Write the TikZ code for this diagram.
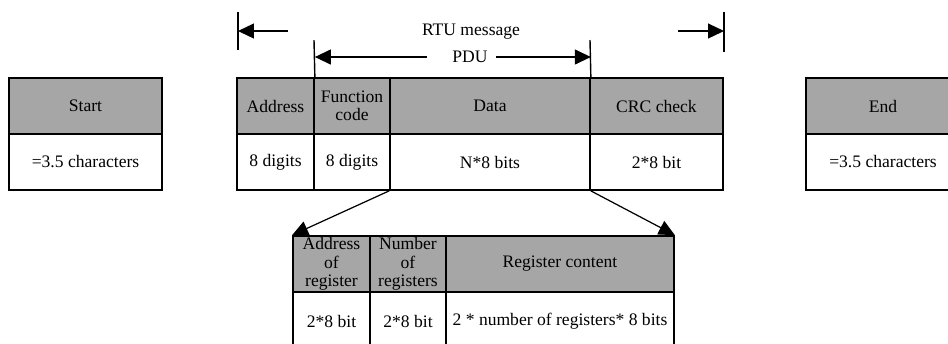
\documentclass[tikz,border=0pt]{standalone}
\usepackage{fontspec}
\setmainfont{Liberation Serif}
\usepackage{tikz}
\usetikzlibrary{arrows.meta,positioning}
\definecolor{cellgray}{RGB}{166,166,166}

\begin{document}
\begin{tikzpicture}[x=0.02cm, y=-0.02cm,
    cell/.style={rectangle, draw, line width=1pt, minimum height=1.12cm, inner sep=0pt, align=center, font=\fontsize{10}{10.5}\selectfont},
    head/.style={cell, fill=cellgray},
    arr/.style={-{Triangle[length=0.32cm,width=0.3cm]}, line width=0.7pt},
    bar/.style={line width=0.8pt}
]
    \useasboundingbox (0,0) rectangle (948,343);

    % start and end of frame
    \node[head, minimum width=3.06cm] (start) at (85.5,106) {Start};
    \node[cell, minimum width=3.06cm] (startlen) at (85.5,162) {=3.5 characters};
    \node[head, minimum width=3.08cm] (end) at (883,106) {End};
    \node[cell, minimum width=3.08cm] (endlen) at (883,162) {=3.5 characters};

    % RTU message
    \node[head, minimum width=1.54cm] (addr) at (275.5,106) {Address};
    \node[head, minimum width=1.52cm] (func) at (352,106) {Function\\code};
    \node[head, minimum width=4.00cm] (data) at (490,106) {Data};
    \node[head, minimum width=2.66cm] (crc) at (656.5,106) {CRC check};
    \node[cell, minimum width=1.54cm] (addrlen) at (275.5,162) {8 digits};
    \node[cell, minimum width=1.52cm] (funclen) at (352,162) {8 digits};
    \node[cell, minimum width=4.00cm] (datalen) at (490,162) {N*8 bits};
    \node[cell, minimum width=2.66cm] (crclen) at (656.5,162) {2*8 bit};

    % data field
    \node[head, minimum width=1.54cm] (regaddr) at (331.5,264) {Address\\of\\register};
    \node[head, minimum width=1.52cm] (regnum) at (408,264) {Number\\of\\registers};
    \node[head, minimum width=4.56cm] (regcont) at (560,264) {Register content};
    \node[cell, minimum width=1.54cm, minimum height=1.16cm] (regaddrlen) at (331.5,321) {2*8 bit};
    \node[cell, minimum width=1.52cm, minimum height=1.16cm] (regnumlen) at (408,321) {2*8 bit};
    \node[cell, minimum width=4.56cm, minimum height=1.16cm] (regcontlen) at (560,321) {2 * number of registers* 8 bits};

    \draw[arr] (datalen.south west) -- (regaddr.north west);
    \draw[arr] (datalen.south east) -- (regcont.north east);

    % dimension lines
    \node[font=\fontsize{10}{10.5}\selectfont] (rtu) at (471,32) {RTU message};
    \node[font=\fontsize{10}{10.5}\selectfont] (pdu) at (470,57) {PDU};
    \coordinate (rtuL) at (238,31);
    \coordinate (rtuR) at (724,31);
    \coordinate (pduL) at (addr.north east |- pdu);
    \coordinate (pduR) at (data.north east |- pdu);

    \draw[bar] (238,12) -- (238,50);
    \draw[bar] (724,12) -- (724,52);
    \draw[bar] (314,40) -- (addr.north east);
    \draw[bar] (590,40) -- (data.north east);

    \draw[arr] (288,31) -- (rtuL);
    \draw[arr] (678,31) -- (rtuR);
    \draw[arr] (427,57) -- (pduL);
    \draw[arr] (496,57) -- (pduR);
\end{tikzpicture}
\end{document}
